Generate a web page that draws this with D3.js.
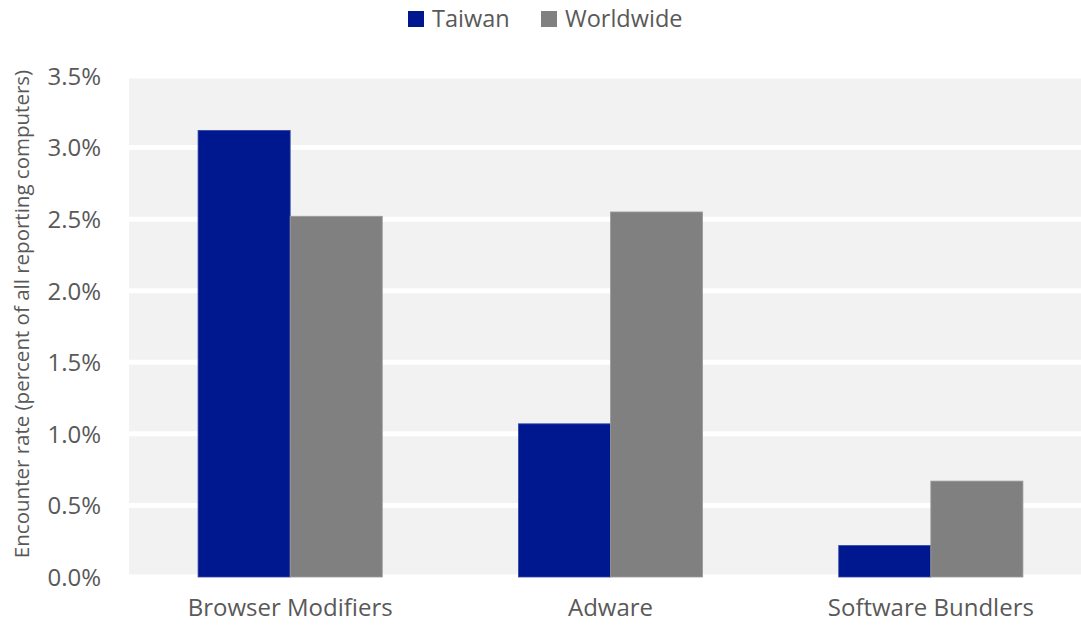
<!DOCTYPE html>
<html><head><meta charset="utf-8">
<script src="https://cdn.jsdelivr.net/npm/d3@7"></script>
<style>body{margin:0;background:#fff}svg{display:block}text{font-family:"Open Sans",sans-serif;fill:#595959}</style>
</head><body><svg id="c" width="1081" height="634"></svg>
<script>
const categories = ["Browser Modifiers", "Adware", "Software Bundlers"];
const seriesNames = ["Taiwan", "Worldwide"];
const taiwan = [3.12, 1.07, 0.22];
const worldwide = [2.52, 2.55, 0.67];
const yTicks = [0, 0.5, 1.0, 1.5, 2.0, 2.5, 3.0, 3.5];
const colors = ["#00188F", "#808080"];
const strokes = ["#3347a8", "#9a9a9a"];
const yTitle = "Encounter rate (percent of all reporting computers)";

const svg = d3.select("#c");
const y = d3.scaleLinear().domain([0, 3.5]).range([577, 76]);
const x0 = d3.scaleBand().domain(categories).range([130, 1091]).paddingInner(0.425).paddingOuter(0.2125);
const x1 = d3.scaleBand().domain(seriesNames).range([0, x0.bandwidth()]);

svg.append("rect").attr("x", 129).attr("y", y(3.5)).attr("width", 1081 - 129).attr("height", y(0) - y(3.5)).attr("fill", "#f2f2f2");

svg.append("g").selectAll("line").data(yTicks).join("line")
  .attr("x1", 129).attr("x2", 1081).attr("y1", d => y(d)).attr("y2", d => y(d))
  .attr("stroke", "#fff").attr("stroke-width", 5);

const data = categories.map((c, i) => ({cat: c, vals: [taiwan[i], worldwide[i]]}));
const g = svg.append("g").selectAll("g").data(data).join("g").attr("transform", d => `translate(${x0(d.cat)},0)`);
g.selectAll("rect").data(d => d.vals.map((v, j) => ({s: seriesNames[j], v, j}))).join("rect")
  .attr("x", d => x1(d.s)).attr("width", x1.bandwidth())
  .attr("y", d => y(d.v)).attr("height", d => y(0) - y(d.v))
  .attr("fill", d => colors[d.j]).attr("stroke", d => strokes[d.j]).attr("stroke-width", 0.8);

const yAxis = d3.axisLeft(y).tickValues(yTicks).tickFormat(d => d.toFixed(1) + "%").tickSize(0).tickPadding(0);
const ya = svg.append("g").attr("transform", "translate(101,0)").call(yAxis);
ya.select(".domain").remove();
ya.selectAll("text").style("font-size", "24px").attr("dy", "0.35em").attr("fill", "#595959");

const xAxis = d3.axisBottom(x0).tickSize(0).tickPadding(0);
const xa = svg.append("g").attr("transform", "translate(0,599)").call(xAxis);
xa.select(".domain").remove();
xa.selectAll("text").style("font-size", "24px").attr("dy", "0.71em").attr("fill", "#595959");

svg.append("text").attr("transform", "translate(29,314) rotate(-90)").attr("text-anchor", "middle")
  .style("font-size", "20.5px").text(yTitle);

const leg = svg.append("g");
const legX = [408, 541];
seriesNames.forEach((s, i) => {
  leg.append("rect").attr("x", legX[i]).attr("y", 11).attr("width", 16).attr("height", 16).attr("fill", colors[i]);
  leg.append("text").attr("x", legX[i] + 24).attr("y", 19).attr("dy", "0.35em").style("font-size", "23.5px").text(s);
});
</script></body></html>
